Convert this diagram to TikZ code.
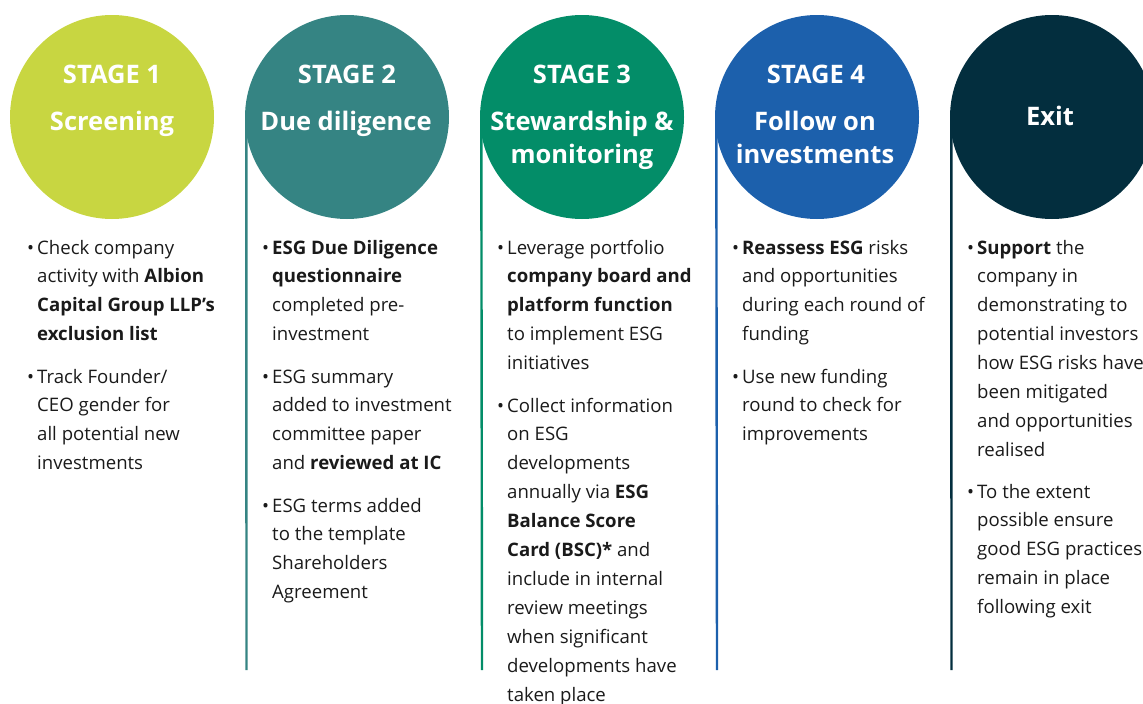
\documentclass[tikz,border=0pt]{standalone}
\usepackage{fontspec}
\setmainfont{Open Sans}
\definecolor{cone}{RGB}{200,214,65}
\definecolor{ctwo}{RGB}{53,132,131}
\definecolor{cthree}{RGB}{3,141,104}
\definecolor{cfour}{RGB}{28,96,172}
\definecolor{cfive}{RGB}{3,46,62}
\definecolor{txt}{RGB}{26,26,26}
\newcommand\bodyfnt{\fontsize{18.6}{28.9}\selectfont}
\newcommand\titlefnt{\fontsize{25.5}{34}\selectfont\bfseries}
\newcommand\bitem[1]{\makebox[10pt][l]{\textbullet}\begin{tabular}[t]{@{}l@{}}#1\end{tabular}}
\tikzset{
  stagecircle/.style={circle, minimum size=204pt, inner sep=0pt, draw=none},
  titletext/.style={anchor=base, inner sep=0pt, text=white, font=\titlefnt},
  bodytext/.style={anchor=base west, inner sep=0pt, text=txt, font=\bodyfnt},
  vline/.style={line width=2.4pt},
}
\begin{document}
\begin{tikzpicture}[x=1pt,y=-1pt]
\useasboundingbox (0,0) rectangle (1143,704);
\clip (0,0) rectangle (1143,704);
% connector end points
\coordinate (e2) at (246.5,670);
\coordinate (e3) at (482,670);
\coordinate (e4) at (717,670);
\coordinate (e5) at (951.5,670);
\node[stagecircle] (c1) at (112,117) {};
\node[stagecircle] (c2) at (347,117) {};
\node[stagecircle] (c3) at (582,117) {};
\node[stagecircle] (c4) at (817,117) {};
\node[stagecircle] (c5) at (1052,117) {};
\draw[vline, ctwo] ([xshift=1.5pt]c2.west) -- (e2);
\draw[vline, cthree] ([xshift=1.5pt]c3.west) -- (e3);
\draw[vline, cfour] ([xshift=1.5pt]c4.west) -- (e4);
\draw[vline, cfive] ([xshift=1.5pt]c5.west) -- (e5);
\fill[cone] (c1.center) circle (102);
\fill[ctwo] (c2.center) circle (102);
\fill[cthree] (c3.center) circle (102);
\fill[cfour] (c4.center) circle (102);
\fill[cfive] (c5.center) circle (102);
% titles
\node[titletext] (t1a) at (112,83) {STAGE 1};
\node[titletext] (t1b) at (112,130) {Screening};
\node[titletext] (t2a) at (347,83) {STAGE 2};
\node[titletext] (t2b) at (346,130) {Due diligence};
\node[titletext] (t3a) at (582,83) {STAGE 3};
\node[titletext] (t3b) at (582,130) {Stewardship \&};
\node[titletext] (t3c) at (582,163) {monitoring};
\node[titletext] (t4a) at (816,83) {STAGE 4};
\node[titletext] (t4b) at (815,130) {Follow on};
\node[titletext] (t4c) at (815,163) {investments};
\node[titletext] (t5a) at (1050,125) {Exit};
% stage 1
\node[bodytext] (b1a) at (27,254) {\bitem{Check company\\activity with \textbf{Albion}\\\textbf{Capital Group LLP’s}\\\textbf{exclusion list}}};
\node[bodytext] (b1b) at (27,383) {\bitem{Track Founder/\\CEO gender for\\all potential new\\investments}};
% stage 2
\node[bodytext] (b2a) at (262,254) {\bitem{\textbf{ESG Due Diligence}\\\textbf{questionnaire}\\completed pre-\\investment}};
\node[bodytext] (b2b) at (262,383) {\bitem{ESG summary\\added to investment\\committee paper\\and \textbf{reviewed at IC}}};
\node[bodytext] (b2c) at (262,512) {\bitem{ESG terms added\\to the template\\Shareholders\\Agreement}};
% stage 3
\node[bodytext] (b3a) at (497,254) {\bitem{Leverage portfolio\\\textbf{company board and}\\\textbf{platform function}\\to implement ESG\\initiatives}};
\node[bodytext] (b3b) at (497,412) {\bitem{Collect information\\on ESG\\developments\\annually via \textbf{ESG}\\\textbf{Balance Score}\\\textbf{Card (BSC)*} and\\include in internal\\review meetings\\when significant\\developments have\\taken place}};
% stage 4
\node[bodytext] (b4a) at (732,254) {\bitem{\textbf{Reassess ESG} risks\\and opportunities\\during each round of\\funding}};
\node[bodytext] (b4b) at (732,383) {\bitem{Use new funding\\round to check for\\improvements}};
% exit
\node[bodytext] (b5a) at (967,254) {\bitem{\textbf{Support} the\\company in\\demonstrating to\\potential investors\\how ESG risks have\\been mitigated\\and opportunities\\realised}};
\node[bodytext] (b5b) at (967,498) {\bitem{To the extent\\possible ensure\\good ESG practices\\remain in place\\following exit}};
\end{tikzpicture}
\end{document}
